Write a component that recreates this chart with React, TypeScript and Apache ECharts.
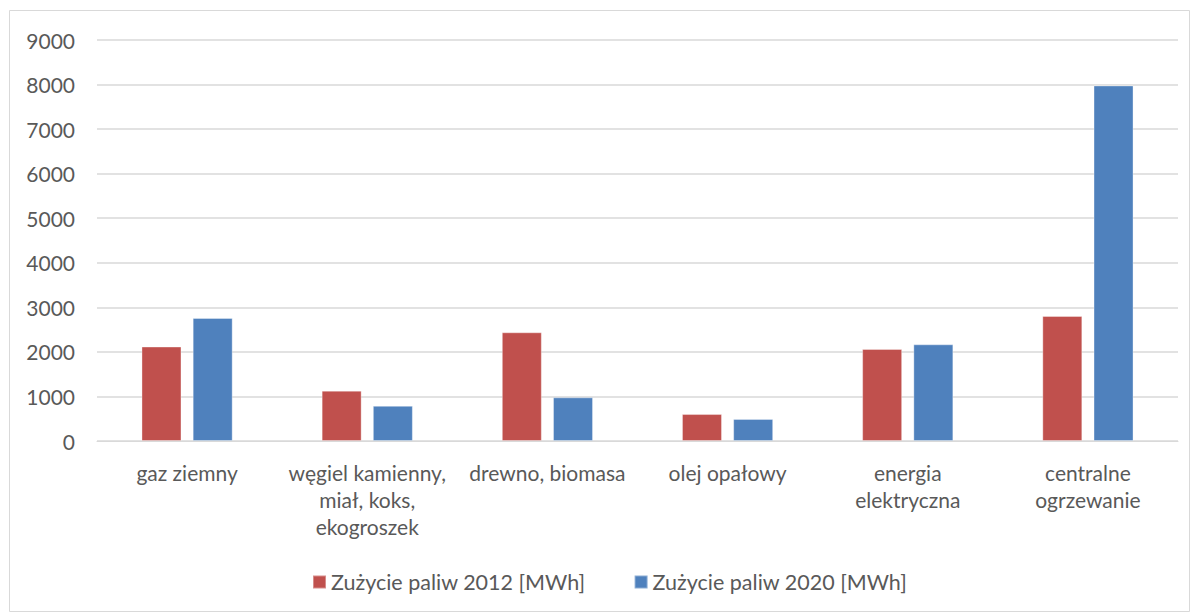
import React, { useEffect, useRef } from "react";
import * as echarts from "echarts";

const categories = [
  "gaz ziemny",
  "węgiel kamienny,\nmiał, koks,\nekogroszek",
  "drewno, biomasa",
  "olej opałowy",
  "energia\nelektryczna",
  "centralne\nogrzewanie",
];
const series2012Name = "Zużycie paliw 2012 [MWh]";
const series2020Name = "Zużycie paliw 2020 [MWh]";
const values2012 = [2120, 1130, 2440, 605, 2065, 2805];
const values2020 = [2760, 790, 980, 495, 2170, 7980];
const yTicks = { min: 0, max: 9000, interval: 1000 };

export default function App() {
  const ref = useRef<HTMLDivElement>(null);
  useEffect(() => {
    if (!ref.current) return;
    const chart = echarts.init(ref.current, undefined, { renderer: "svg" });
    const font = "Lato, 'Open Sans', sans-serif";
    chart.setOption({
      animation: false,
      backgroundColor: "#ffffff",
      textStyle: { fontFamily: font },
      graphic: [
        {
          type: "rect",
          shape: { x: 9.5, y: 10.5, width: 1180, height: 601 },
          style: { fill: "none", stroke: "#D9D9D9", lineWidth: 1 },
          silent: true,
        },
      ],
      grid: { left: 97, right: 16, top: 40, bottom: 174, containLabel: false },
      legend: {
        data: [series2012Name, series2020Name],
        bottom: 17,
        left: 307,
        itemWidth: 13,
        itemHeight: 13,
        itemGap: 48,
        icon: "rect",
        textStyle: { color: "#595959", fontSize: 21.5, fontFamily: font },
      },
      xAxis: {
        type: "category",
        data: categories,
        axisLine: { lineStyle: { color: "#D9D9D9", width: 1 } },
        axisTick: { show: false },
        axisLabel: {
          interval: 0,
          color: "#595959",
          fontSize: 21,
          lineHeight: 27,
          margin: 18,
          fontFamily: font,
        },
      },
      yAxis: {
        type: "value",
        min: yTicks.min,
        max: yTicks.max,
        interval: yTicks.interval,
        axisLine: { show: false },
        axisTick: { show: false },
        splitLine: { lineStyle: { color: "#D9D9D9", width: 1.5 } },
        axisLabel: {
          color: "#595959",
          fontSize: 21,
          margin: 22,
          fontFamily: font,
          formatter: (v: number) => String(v),
        },
      },
      series: [
        {
          name: series2012Name,
          type: "bar",
          data: values2012,
          barWidth: 40,
          barGap: "28%",
          itemStyle: { color: "#C0504D", borderColor: "rgba(255,255,255,0.35)", borderWidth: 1 },
        },
        {
          name: series2020Name,
          type: "bar",
          data: values2020,
          barWidth: 40,
          itemStyle: { color: "#4F81BD", borderColor: "rgba(255,255,255,0.35)", borderWidth: 1 },
        },
      ],
    });
    return () => chart.dispose();
  }, []);
  return (
    <div
      ref={ref}
      style={{ position: "absolute", left: 0, top: 0, width: 1194, height: 615 }}
    />
  );
}
